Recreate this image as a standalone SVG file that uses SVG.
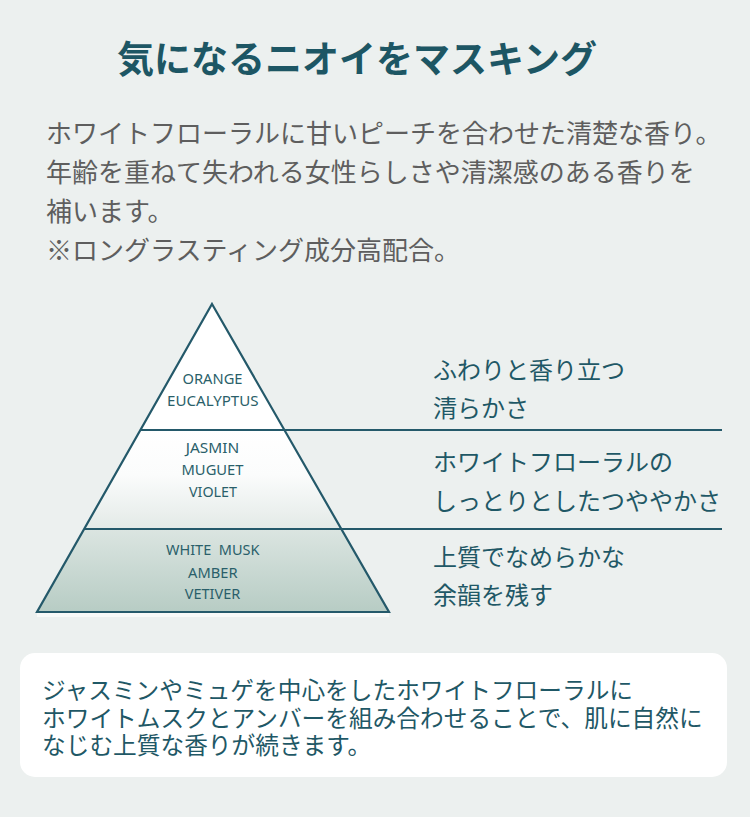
<svg xmlns="http://www.w3.org/2000/svg" width="750" height="817" viewBox="0 0 750 817">
<defs>
<style>
.jp{font-family:"Noto Sans CJK JP","Noto Sans",sans-serif;}
.title{font-size:37px;font-weight:700;fill:#1d5664;}
.body{font-size:26px;fill:#5e5e5e;}
.note{font-size:24px;fill:#1f5866;}
.box{font-size:23.7px;fill:#1f5866;}
.py{font-family:"Noto Sans","Open Sans",sans-serif;font-size:15px;fill:#2a5f6a;text-anchor:middle;}
.ln{stroke:#24596a;stroke-width:2.2;fill:none;}
</style>
<linearGradient id="gMid" x1="0" y1="0" x2="0" y2="1">
<stop offset="0" stop-color="#ffffff"/>
<stop offset="0.45" stop-color="#fbfcfc"/>
<stop offset="1" stop-color="#e3eae7"/>
</linearGradient>
<linearGradient id="gBot" x1="0" y1="0" x2="0" y2="1">
<stop offset="0" stop-color="#dbe5e1"/>
<stop offset="1" stop-color="#b7ccc4"/>
</linearGradient>
</defs>
<rect x="0" y="0" width="750" height="817" fill="#ecf0ef"/>
<g id="title"><text class="jp title" x="117" y="73">気になるニオイをマスキング</text></g>
<g id="description" class="jp body">
<text x="46" y="143">ホワイトフローラルに甘いピーチを合わせた清楚な香り。</text>
<text x="46" y="182">年齢を重ねて失われる女性らしさや清潔感のある香りを</text>
<text x="46" y="221">補います。</text>
<text x="46" y="260">※ロングラスティング成分高配合。</text>
</g>
<g id="pyramid">
<rect x="37" y="613" width="352" height="4" fill="#f7f9f8"/>
<polygon id="top-band" points="212,304 140.4,430 284.4,430" fill="#ffffff"/>
<polygon id="middle-band" points="140.4,430 284.4,430 341,529 84.2,529" fill="url(#gMid)"/>
<polygon id="bottom-band" points="84.2,529 341,529 389,612 37,612" fill="url(#gBot)"/>
<polygon points="212,304 389,612 37,612" class="ln" stroke-width="2.6" stroke-linejoin="miter"/>
</g>
<g id="connectors">
<line class="ln" x1="140.4" y1="430" x2="722" y2="430"/>
<line class="ln" x1="84.2" y1="529" x2="722" y2="529"/>
</g>
<g id="top-notes" class="py">
<text x="212.5" y="383.5" textLength="60" lengthAdjust="spacingAndGlyphs">ORANGE</text>
<text x="212.8" y="405.5" textLength="91.5" lengthAdjust="spacingAndGlyphs">EUCALYPTUS</text>
</g>
<g id="middle-notes" class="py">
<text x="212.5" y="452.5" textLength="53.5" lengthAdjust="spacingAndGlyphs">JASMIN</text>
<text x="212.5" y="474.5" textLength="62" lengthAdjust="spacingAndGlyphs">MUGUET</text>
<text x="213" y="496.5" textLength="48" lengthAdjust="spacingAndGlyphs">VIOLET</text>
</g>
<g id="base-notes" class="py">
<text x="212.7" y="554.5" textLength="93.5" lengthAdjust="spacingAndGlyphs" xml:space="preserve">WHITE  MUSK</text>
<text x="212.8" y="578" textLength="49.5" lengthAdjust="spacingAndGlyphs">AMBER</text>
<text x="212.5" y="598.5" textLength="55.5" lengthAdjust="spacingAndGlyphs">VETIVER</text>
</g>
<g id="top-desc" class="jp note">
<text x="433" y="379">ふわりと香り立つ</text>
<text x="433" y="417">清らかさ</text>
</g>
<g id="middle-desc" class="jp note">
<text x="433" y="471">ホワイトフローラルの</text>
<text x="433" y="510">しっとりとしたつややかさ</text>
</g>
<g id="base-desc" class="jp note">
<text x="433" y="566">上質でなめらかな</text>
<text x="433" y="604">余韻を残す</text>
</g>
<g id="summary-box">
<rect x="20" y="653" width="707" height="124" rx="15" ry="15" fill="#ffffff"/>
<g class="jp box">
<text x="42" y="699">ジャスミンやミュゲを中心をしたホワイトフローラルに</text>
<text x="42" y="726.5">ホワイトムスクとアンバーを組み合わせることで、肌に自然に</text>
<text x="42" y="753.5">なじむ上質な香りが続きます。</text>
</g>
</g>
</svg>
